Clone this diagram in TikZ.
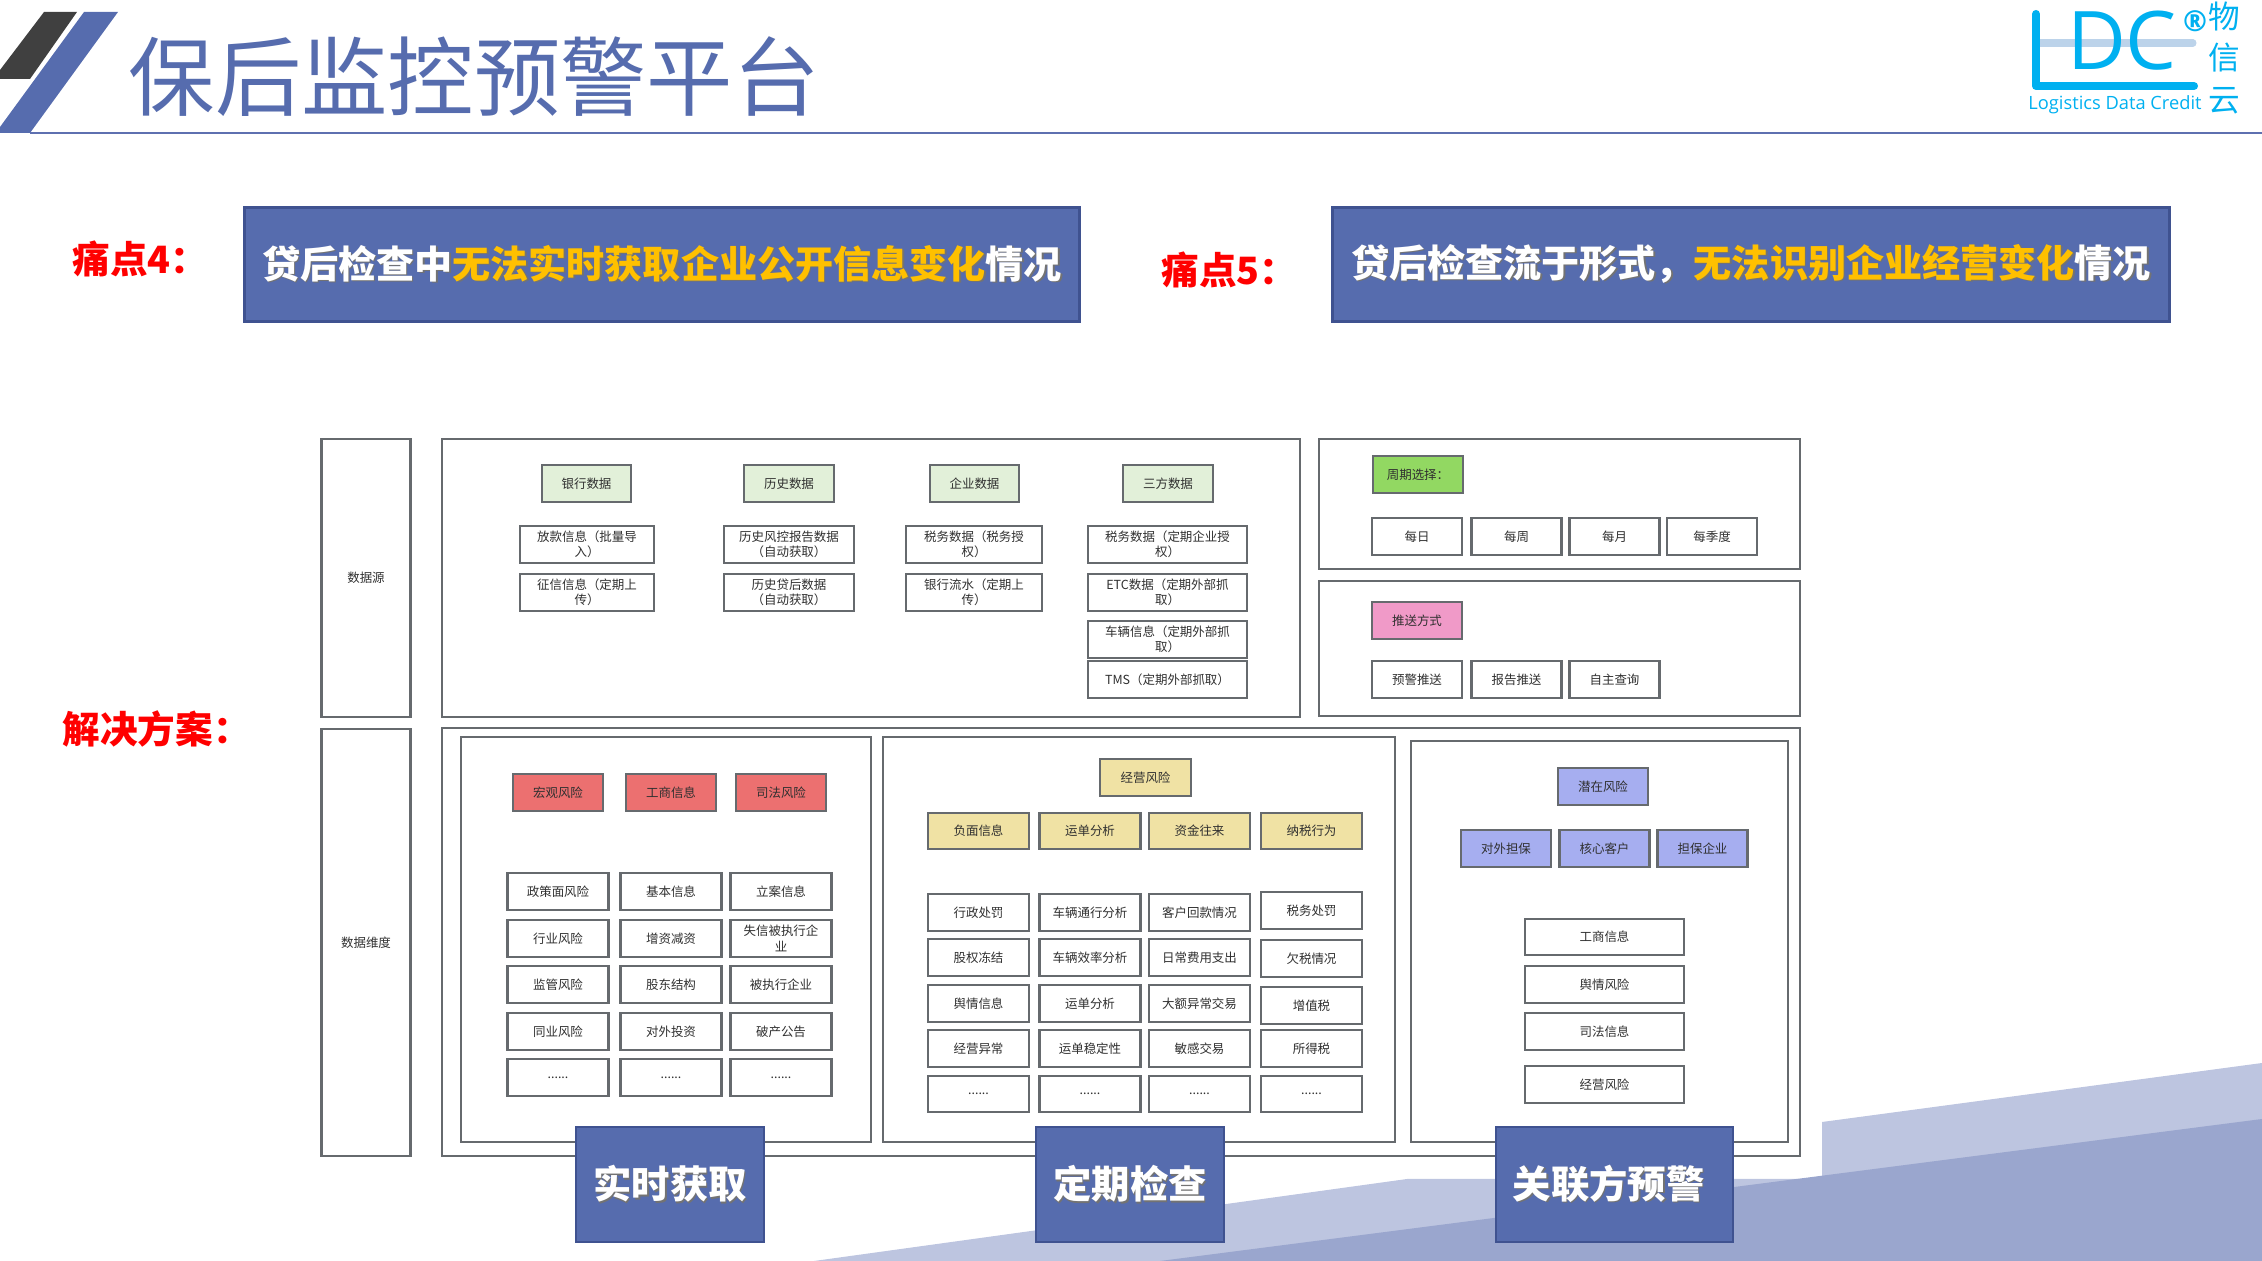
\documentclass[tikz,border=0pt]{standalone}
\usepackage{fontspec}
\setmainfont{Noto Sans CJK SC}
\newfontfamily\logofont{Open Sans}
\usepackage{tikz}
\definecolor{slideblue}{HTML}{566CAE}
\definecolor{edgeblue}{HTML}{3F5290}
\definecolor{ruleblue}{HTML}{5E70B0}
\definecolor{darkbar}{HTML}{404040}
\definecolor{wavelight}{HTML}{BDC5E0}
\definecolor{wavedark}{HTML}{9AA6CE}
\definecolor{linegray}{HTML}{666A6E}
\definecolor{txtgray}{HTML}{303030}
\definecolor{hlyellow}{HTML}{FFC000}
\definecolor{palegreen}{HTML}{E2F0D9}
\definecolor{leafgreen}{HTML}{92D862}
\definecolor{pushpink}{HTML}{F09AC8}
\definecolor{riskred}{HTML}{EC7070}
\definecolor{risktan}{HTML}{F0E2A4}
\definecolor{riskblue}{HTML}{A6AEF0}
\definecolor{logoblue}{HTML}{00B0F0}
\definecolor{logobar}{HTML}{BCD3EA}
\newcommand{\hilite}[1]{\textcolor{hlyellow}{#1}}
\newcommand{\shadowed}[1]{\rlap{\kern.45pt\raisebox{-.45pt}{\let\hilite\relax\color{black!55}#1}}#1}
\newcommand{\moredots}{......}
\tikzset{
  small/.style={font=\fontsize{3.55}{4.4}\selectfont,text=txtgray,align=center,inner sep=0pt},
  item/.style={small,draw=linegray,line width=.6pt,fill=white,minimum height=.365cm},
  head/.style={item,fill=#1},
  panel/.style={draw=linegray,line width=.6pt},
  side/.style={small,panel,minimum width=.89cm},
  pain/.style={draw=edgeblue,line width=.8pt,fill=slideblue,text=white,inner sep=0pt,
    font=\fontsize{10.83}{12}\selectfont\bfseries},
  tab/.style={pain,minimum height=1.15cm,font=\fontsize{10.9}{12}\selectfont\bfseries},
  tag/.style={anchor=west,text=red,inner sep=0pt,font=\fontsize{10.7}{12}\selectfont\bfseries},
}
\begin{document}
\begin{tikzpicture}[x=0.01cm,y=-0.01cm]
\useasboundingbox (0,0) rectangle (2262,1261);
% background wedges
\fill[wavelight] (814,1261)--(1407,1179)--(1822,1179)--(1822,1122)--(2262,1063)--(2262,1261)--cycle;
\fill[wavedark] (1160,1261)--(2262,1119)--(2262,1261)--cycle;
% header
\fill[darkbar] (44,12)--(77,12)--(30,79)--(0,79)--(0,70)--cycle;
\fill[slideblue] (84,12)--(118,12)--(30,133)--(0,133)--(0,127)--cycle;
\draw[ruleblue,line width=.6pt] (30,133)--(2262,133);
\node[anchor=west,inner sep=0pt,text=slideblue,font=\fontsize{24.55}{26}\selectfont](title)at(128,77){保后监控预警平台};
% logo
\draw[logobar,line width=2pt,line cap=round] (2040,43)--(2193,43);
\draw[logoblue,line width=2.3pt,line cap=round,line join=round] (2036,14)--(2036,86)--(2194,86);
\node[inner sep=0pt,text=logoblue,font=\logofont\fontsize{23}{24}\selectfont](logodc)at(2122,41){DC};
\node[inner sep=0pt,text=logoblue,font=\logofont\bfseries\fontsize{8.2}{9}\selectfont](logoreg)at(2195,21){®};
\node[inner sep=0pt,text=logoblue,font=\logofont\fontsize{5.2}{6}\selectfont](logoname)at(2115,105){Logistics Data Credit};
\node[inner sep=0pt,text=logoblue,align=center,font=\fontsize{9}{11.7}\selectfont](logocn)at(2224,58){物\\信\\云};
% pain points
\node[tag](tagfour)at(72,259){痛点4：};
\node[tag](tagfive)at(1161,270){痛点5：};
\node[tag](tagplan)at(62,729){解决方案：};
\node[pain,minimum width=8.35cm,minimum height=1.14cm](painfour)at(662,264.5){\shadowed{贷后检查中\hilite{无法实时获取企业公开信息变化}情况}};
\node[pain,minimum width=8.36cm,minimum height=1.14cm](painfive)at(1751,264.5){\shadowed{贷后检查流于形式，\hilite{无法识别企业经营变化}情况}};
% frames
\node[side,minimum height=2.78cm](srcside)at(366,578){数据源};
\node[side,minimum height=4.27cm](dimside)at(366,942.5){数据维度};
\draw[panel] (442,439) rectangle (1300,717);
\draw[panel] (1319,439) rectangle (1800,569);
\draw[panel] (1319,581) rectangle (1800,716);
\draw[panel] (442,728) rectangle (1800,1156);
\draw[panel] (461,737) rectangle (871,1142);
\draw[panel] (883,737) rectangle (1395,1142);
\draw[panel] (1411,741) rectangle (1788,1142);
% data sources
\foreach \nm/\xx/\bw/\txt in {bank/586.5/.89/银行数据,hist/789/.9/历史数据,firm/974.5/.89/企业数据,third/1168/.9/三方数据}
  \node[head=palegreen,minimum width=\bw cm](\nm)at(\xx,483.5){\txt};
\foreach \nm/\xx/\yy/\bw/\txt in {
  loan/587/544.5/1.34/{放款信息（批量导\\入）},credit/587/592.5/1.34/{征信信息（定期上\\传）},
  risk/789/544.5/1.3/{历史风控报告数据\\（自动获取）},after/789/592.5/1.3/{历史贷后数据\\（自动获取）},
  tax/974/544.5/1.36/{税务数据（税务授\\权）},flow/974/592.5/1.36/{银行流水（定期上\\传）},
  taxb/1167.5/544.5/1.59/{税务数据（定期企业授\\权）},etc/1167.5/592.5/1.59/{ETC数据（定期外部抓\\取）},
  truck/1167.5/639.5/1.59/{车辆信息（定期外部抓\\取）},tms/1167.5/679.5/1.59/{TMS（定期外部抓取）}}
  \node[item,minimum width=\bw cm](\nm)at(\xx,\yy){\txt};
% period and push
\node[head=leafgreen,minimum width=.9cm](period)at(1418,474.5){周期选择：};
\foreach \nm/\xx/\txt in {day/1417/每日,week/1516.5/每周,month/1614.5/每月,season/1712/每季度}
  \node[item,minimum width=.9cm](\nm)at(\xx,536.5){\txt};
\node[head=pushpink,minimum width=.9cm](push)at(1417,620.5){推送方式};
\foreach \nm/\xx/\txt in {warn/1417/预警推送,report/1516.5/报告推送,query/1614.5/自主查询}
  \node[item,minimum width=.9cm](\nm)at(\xx,679.5){\txt};
% real time column
\foreach \nm/\xx/\txt in {macro/558/宏观风险,biz/671/工商信息,law/781/司法风险}
  \node[head=riskred,minimum width=.9cm](\nm)at(\xx,792.5){\txt};
\foreach \nm/\xx/\yy/\txt in {
  ra/558/891.5/政策面风险,rb/558/938.5/行业风险,rc/558/984.5/监管风险,rd/558/1031.5/同业风险,re/558/1077.5/\moredots,
  sa/671/891.5/基本信息,sb/671/938.5/增资减资,sc/671/984.5/股东结构,sd/671/1031.5/对外投资,se/671/1077.5/\moredots,
  ta/781/891.5/立案信息,tb/781/938.5/{失信被执行企\\业},tc/781/984.5/被执行企业,td/781/1031.5/破产公告,te/781/1077.5/\moredots}
  \node[item,minimum width=1.01cm](\nm)at(\xx,\yy){\txt};
% periodic column
\node[head=risktan,minimum width=.91cm](oper)at(1145.5,777.5){经营风险};
\foreach \nm/\xx/\txt in {neg/978.5/负面信息,way/1090/运单分析,fund/1199.5/资金往来,duty/1311.5/纳税行为}
  \node[head=risktan,minimum width=1.01cm](\nm)at(\xx,831){\txt};
\foreach \nm/\xx/\yy/\txt in {
  ua/978.5/912.5/行政处罚,ub/978.5/957.5/股权冻结,uc/978.5/1003.5/舆情信息,ud/978.5/1048.5/经营异常,ue/978.5/1094/\moredots,
  va/1090/912.5/车辆通行分析,vb/1090/957.5/车辆效率分析,vc/1090/1003.5/运单分析,vd/1090/1048.5/运单稳定性,ve/1090/1094/\moredots,
  wa/1199.5/912.5/客户回款情况,wb/1199.5/957.5/日常费用支出,wc/1199.5/1003.5/大额异常交易,wd/1199.5/1048.5/敏感交易,we/1199.5/1094/\moredots,
  xa/1311.5/910.5/税务处罚,xb/1311.5/958.5/欠税情况,xc/1311.5/1005.5/增值税,xd/1311.5/1048.5/所得税,xe/1311.5/1094/\moredots}
  \node[item,minimum width=1.01cm](\nm)at(\xx,\yy){\txt};
% related party column
\node[head=riskblue,minimum width=.9cm](latent)at(1603,786.5){潜在风险};
\foreach \nm/\xx/\txt in {guar/1506/对外担保,core/1604.5/核心客户,gfirm/1702.5/担保企业}
  \node[head=riskblue,minimum width=.9cm](\nm)at(\xx,848.5){\txt};
\foreach \nm/\yy/\txt in {pa/937/工商信息,pb/984.5/舆情风险,pc/1031.5/司法信息,pd/1084.5/经营风险}
  \node[item,minimum width=1.59cm](\nm)at(1604.5,\yy){\txt};
% bottom tabs
\foreach \nm/\xx/\txt in {live/670/实时获取,fixed/1130/定期检查}
  \node[tab,minimum width=1.88cm](\nm)at(\xx,1184.5){\shadowed{\txt}};
\node[tab,minimum width=2.37cm](party)at(1614.5,1184.5){\shadowed{关联方预警}\kern.12cm};
\end{tikzpicture}
\end{document}
